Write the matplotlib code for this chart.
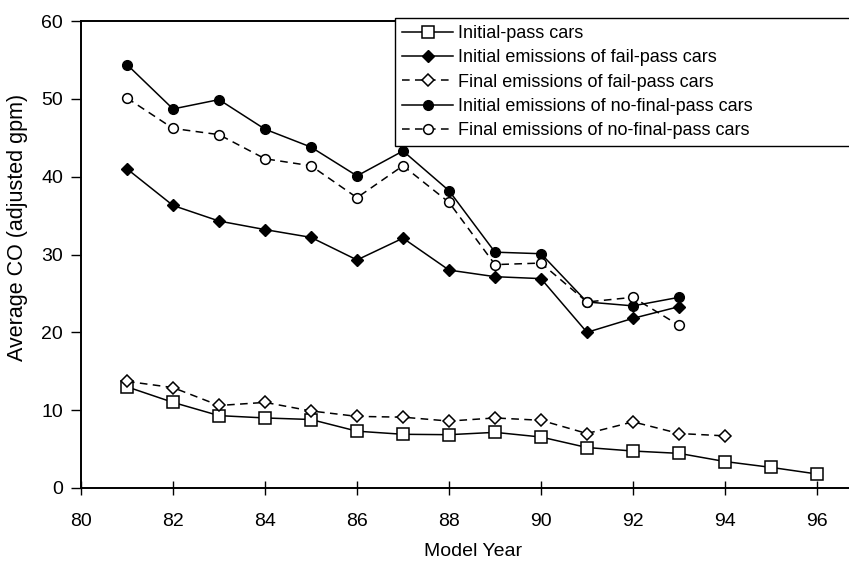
import matplotlib
matplotlib.use("Agg")
import matplotlib.pyplot as plt

plt.rcParams['font.family'] = ['Liberation Sans', 'DejaVu Sans']

# model years
years_pass = [81, 82, 83, 84, 85, 86, 87, 88, 89, 90, 91, 92, 93, 94, 95, 96]
years_fail = [81, 82, 83, 84, 85, 86, 87, 88, 89, 90, 91, 92, 93]
years_fail_final = [81, 82, 83, 84, 85, 86, 87, 88, 89, 90, 91, 92, 93, 94]
years_nofinal = [81, 82, 83, 84, 85, 86, 87, 88, 89, 90, 91, 92, 93]

# average CO, adjusted gpm
initial_pass = [13.0, 11.0, 9.3, 9.0, 8.8, 7.3, 6.9, 6.85, 7.15, 6.55, 5.2, 4.75, 4.45, 3.4, 2.65, 1.8]
fail_initial = [41.0, 36.3, 34.3, 33.2, 32.2, 29.3, 32.1, 28.0, 27.15, 26.9, 20.0, 21.8, 23.3]
fail_final = [13.7, 12.9, 10.6, 11.0, 9.9, 9.2, 9.1, 8.6, 9.0, 8.7, 7.0, 8.5, 7.0, 6.7]
nofinal_initial = [54.4, 48.7, 49.9, 46.1, 43.8, 40.1, 43.3, 38.2, 30.3, 30.1, 23.9, 23.4, 24.5]
nofinal_final = [50.1, 46.2, 45.4, 42.3, 41.4, 37.3, 41.4, 36.7, 28.7, 28.9, 23.9, 24.5, 20.9]

labels = ["Initial-pass cars",
          "Initial emissions of fail-pass cars",
          "Final emissions of fail-pass cars",
          "Initial emissions of no-final-pass cars",
          "Final emissions of no-final-pass cars"]

fig = plt.figure(figsize=(8.49, 5.65), dpi=100)
ax = fig.add_axes([81 / 849, 1 - 488 / 565, 1 - 81 / 849, (488 - 21) / 565])

lw = 1.1
dash = (5, 3.5)
ax.plot(years_pass, initial_pass, color='black', lw=lw, marker='s', ms=8,
        mfc='white', mec='black', mew=1.1, label=labels[0])
ax.plot(years_fail, fail_initial, color='black', lw=lw, marker='D', ms=6.5,
        mfc='black', mec='black', label=labels[1])
ax.plot(years_fail_final, fail_final, color='black', lw=lw, ls='--', dashes=dash,
        marker='D', ms=6.5, mfc='white', mec='black', mew=1.1, label=labels[2])
ax.plot(years_nofinal, nofinal_initial, color='black', lw=lw, marker='o', ms=7,
        mfc='black', mec='black', label=labels[3])
ax.plot(years_nofinal, nofinal_final, color='black', lw=lw, ls='--', dashes=dash,
        marker='o', ms=7, mfc='white', mec='black', mew=1.1, label=labels[4])

ax.set_xlim(80, 80 + 768 / 46)
ax.set_ylim(0, 60)
ax.set_xticks(range(80, 97, 2))
ax.set_yticks(range(0, 61, 10))

for side in ['left', 'bottom', 'top']:
    ax.spines[side].set_linewidth(1.4)
ax.spines['right'].set_visible(False)

ax.tick_params(axis='x', direction='inout', length=10, width=1, pad=13, labelsize=14)
ax.tick_params(axis='y', direction='out', length=7, width=1, pad=6, labelsize=14)

# axis titles placed in figure pixels
fig.text(473 / 849, 1 - 552 / 565, "Model Year", fontsize=14,
         ha='center', va='center')
fig.text(18 / 849, 1 - 227 / 565, "Average CO (adjusted gpm)", fontsize=15.5,
         rotation=90, ha='center', va='center')

leg = ax.legend(loc='upper left', mode='expand',
                bbox_to_anchor=(395 / 849, 1 - 143 / 565, 0.6, 125 / 565),
                bbox_transform=fig.transFigure,
                fontsize=13, handlelength=2.8, handletextpad=0.3,
                labelspacing=0.4, borderpad=0.4, borderaxespad=0,
                fancybox=False, framealpha=1, edgecolor='black')
leg.get_frame().set_linewidth(1.0)

fig.savefig("out.png", dpi=100)
